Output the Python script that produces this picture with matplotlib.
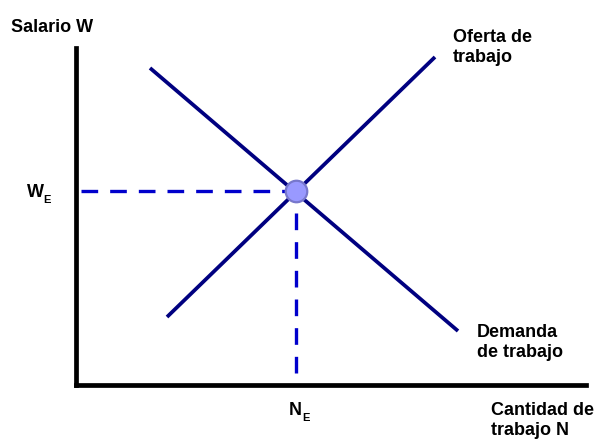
import matplotlib
matplotlib.use("Agg")
import matplotlib.pyplot as plt

plt.rcParams["font.family"] = ["Liberation Sans", "DejaVu Sans"]

# labour market: supply and demand lines (quantity N, wage W), arbitrary units
supply_n = [91, 359]
supply_w = [68, 328]
demand_n = [74, 382]
demand_w = [317, 54]
eq_n, eq_w = 220, 194
guide_start_n, guide_start_w = 5, 12

W, H = 598, 440
fig = plt.figure(figsize=(W / 100, H / 100), dpi=100)
ax = fig.add_axes([76 / W, 1 - 385 / H, 510 / W, 337 / H])
ax.set_xlim(0, 510)
ax.set_ylim(0, 337)
for s in ("top", "right"):
    ax.spines[s].set_visible(False)
for s in ("left", "bottom"):
    ax.spines[s].set_linewidth(3.4)
    ax.spines[s].set_color("black")
ax.set_xticks([]); ax.set_yticks([])

navy = "#000080"
ax.plot(supply_n, supply_w, color=navy, lw=2.7, solid_capstyle="butt", clip_on=False)
ax.plot(demand_n, demand_w, color=navy, lw=2.7, solid_capstyle="butt", clip_on=False)

dash = dict(color="#0000CC", lw=2.4, dashes=(5.0, 3.6), clip_on=False)
ax.plot([guide_start_n, eq_n], [eq_w, eq_w], **dash)
ax.plot([eq_n, eq_n], [guide_start_w, eq_w], **dash)

ax.plot([eq_n], [eq_w], "o", ms=15.5, mfc="#9999FF", mec="#7777CC", mew=1.6,
        zorder=5, clip_on=False)


def px(x, y, s, size=13):
    fig.text(x / W, 1 - y / H, s, fontsize=size, fontweight="bold",
             va="baseline", ha="left")


px(11, 32, "Salario W")
px(453, 42, "Oferta de")
px(453, 62, "trabajo")
px(477, 337, "Demanda")
px(477, 357, "de trabajo")
px(491, 415, "Cantidad de")
px(491, 435, "trabajo N")
px(27, 197, "W")
px(43, 203, "E", 8)
px(289, 415, "N")
px(302, 421, "E", 8)

fig.savefig("out.png", dpi=100)
